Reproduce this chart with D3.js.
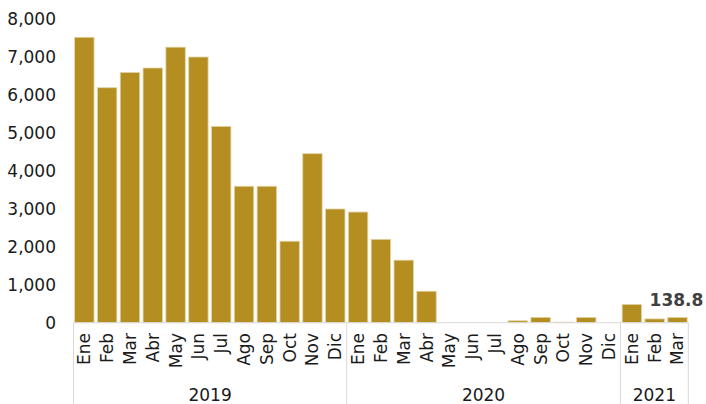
<!DOCTYPE html>
<html>
<head>
<meta charset="utf-8">
<script src="https://cdn.jsdelivr.net/npm/d3@7"></script>
<style>
  html, body { margin: 0; padding: 0; background: #fff; }
  svg { display: block; font-family: "DejaVu Sans", Verdana, sans-serif; }
</style>
</head>
<body>
<svg id="chart" width="706" height="404"></svg>
<script>
const months = ["Ene","Feb","Mar","Abr","May","Jun","Jul","Ago","Sep","Oct","Nov","Dic",
                "Ene","Feb","Mar","Abr","May","Jun","Jul","Ago","Sep","Oct","Nov","Dic",
                "Ene","Feb","Mar"];
const years = ["2019","2020","2021"];
const yearCounts = [12, 12, 3];
const values = [7530, 6200, 6600, 6720, 7270, 7010, 5180, 3600, 3600, 2150, 4460, 3000,
                2920, 2200, 1650, 830, 0, 0, 0, 50, 140, 15, 140, 0,
                480, 100, 138.8];
const yTicks = [0, 1000, 2000, 3000, 4000, 5000, 6000, 7000, 8000];
const labelIndex = 26;
const labelText = "138.8";

const svg = d3.select("#chart");
const x0 = 73.5, x1 = 688.3, yBase = 322.7, yTop = 19.5;

const x = d3.scaleBand().domain(d3.range(months.length)).range([x0, x1])
  .paddingInner(0.15).paddingOuter(0.05);
const y = d3.scaleLinear().domain([0, 8000]).range([yBase, yTop]);

// y tick labels
const yAxis = d3.axisLeft(y).tickValues(yTicks).tickFormat(d3.format(",")).tickSize(0).tickPadding(0);
const ga = svg.append("g").attr("transform", "translate(56,0)").call(yAxis);
ga.select(".domain").remove();
ga.selectAll("text").attr("font-size", 17).attr("fill", "#1a1a1a")
  .attr("font-family", "DejaVu Sans, Verdana, sans-serif");

// bars
svg.append("g").selectAll("rect").data(values).join("rect")
  .attr("x", (d, i) => x(i))
  .attr("width", x.bandwidth())
  .attr("y", d => y(d))
  .attr("height", d => yBase - y(d))
  .attr("fill", "#B58E22")
  .attr("stroke", "#e2d3a3")
  .attr("stroke-width", 0.8);

// baseline
svg.append("line").attr("x1", x0).attr("x2", x1).attr("y1", yBase).attr("y2", yBase)
  .attr("stroke", "#d9d9d9").attr("stroke-width", 1);

// separators
const step = x.step();
const start = x(0) - x.paddingOuter() * step + (x.paddingInner() * step) / 2 - x.paddingInner()*step/2;
let cum = 0;
const bounds = [0];
yearCounts.forEach(c => { cum += c; bounds.push(cum); });
function boundaryX(k) {
  if (k === 0) return x0;
  if (k === months.length) return x1;
  return (x(k - 1) + x.bandwidth() + x(k)) / 2;
}
svg.append("g").selectAll("line").data(bounds).join("line")
  .attr("x1", d => boundaryX(d)).attr("x2", d => boundaryX(d))
  .attr("y1", yBase).attr("y2", 404)
  .attr("stroke", "#d9d9d9").attr("stroke-width", 1);

// month labels
svg.append("g").selectAll("text").data(months).join("text")
  .attr("transform", (d, i) => `translate(${x(i) + x.bandwidth() / 2 + 6},333) rotate(-90)`)
  .attr("text-anchor", "end")
  .attr("font-size", 17)
  .attr("fill", "#1a1a1a")
  .text(d => d);

// year labels
svg.append("g").selectAll("text").data(years).join("text")
  .attr("x", (d, i) => (boundaryX(bounds[i]) + boundaryX(bounds[i + 1])) / 2)
  .attr("y", 401)
  .attr("text-anchor", "middle")
  .attr("font-size", 17)
  .attr("fill", "#1a1a1a")
  .text(d => d);

// data label
svg.append("text")
  .attr("x", x(labelIndex) + x.bandwidth() / 2 - 1)
  .attr("y", y(values[labelIndex]) - 11)
  .attr("text-anchor", "middle")
  .attr("font-size", 17)
  .attr("font-weight", "bold")
  .attr("fill", "#404040")
  .text(labelText);
</script>
</body>
</html>
